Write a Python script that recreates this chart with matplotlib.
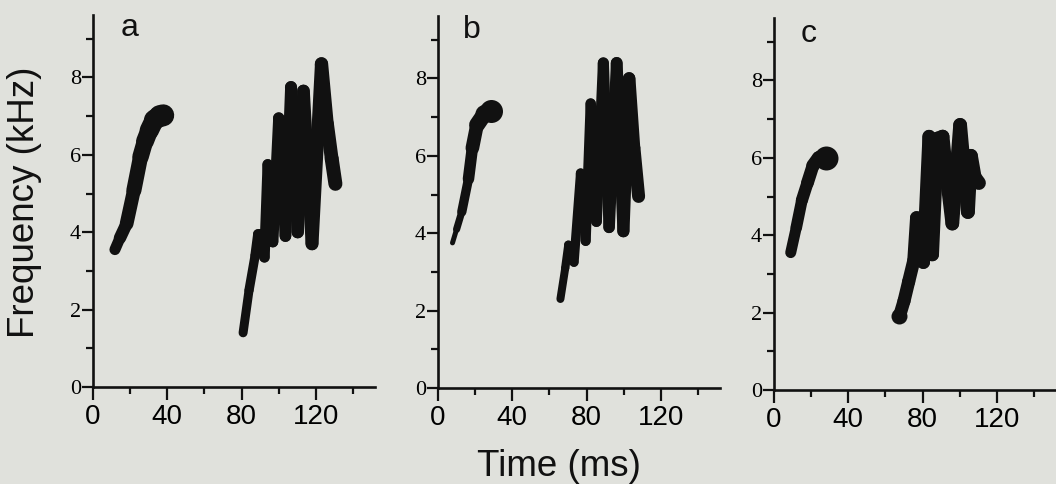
import numpy as np
import matplotlib
matplotlib.use("Agg")
import matplotlib.pyplot as plt
from matplotlib.collections import LineCollection

# ---------------- data ----------------
x_major = [0, 40, 80, 120]
x_minor = [20, 60, 100, 140]
y_major = [0, 2, 4, 6, 8]
y_minor = [1, 3, 5, 7, 9]
panel_letters = ["a", "b", "c"]

# panel a
a_note1_t = [11.8, 14.5, 18.1, 22.0, 25.6, 28.0, 30.3, 33.0, 36.0, 37.8]
a_note1_f = [3.55, 3.85, 4.22, 5.08, 5.95, 6.35, 6.63, 6.9, 7.0, 7.02]
a_note2_t = [80.8, 84.0, 87.3, 88.8, 90.8, 92.3, 94.1, 96.8, 100.0, 103.6,
             106.6, 110.2, 113.3, 117.9, 123.0, 126.0, 128.5, 130.5]
a_note2_f = [1.4, 2.5, 3.4, 3.95, 3.95, 3.35, 5.75, 3.75, 6.95, 3.9,
             7.75, 4.0, 7.65, 3.7, 8.35, 6.8, 5.9, 5.25]

# panel b
b_note1_t = [7.8, 10.0, 12.8, 16.4, 18.5, 21.0, 25.0, 28.6]
b_note1_f = [3.75, 4.1, 4.55, 5.4, 6.2, 6.8, 7.08, 7.15]
b_note2_t = [65.9, 68.5, 70.2, 71.5, 73.2, 76.8, 79.5, 82.2, 85.3, 89.0,
             92.1, 96.2, 99.8, 102.9, 105.5, 108.0]
b_note2_f = [2.3, 3.1, 3.7, 3.65, 3.25, 5.55, 3.8, 7.35, 4.3, 8.4,
             4.15, 8.4, 4.05, 8.0, 6.2, 4.95]

# panel c
c_note1_t = [9.0, 12.0, 15.0, 18.0, 21.0, 24.0, 27.8]
c_note1_f = [3.55, 4.2, 4.9, 5.35, 5.8, 6.0, 6.0]
c_note2_t = [67.5, 70.0, 72.5, 75.3, 76.8, 80.4, 83.5, 85.2, 88.0, 90.8,
             93.0, 96.0, 100.2, 104.4, 106.0, 108.0, 110.3]
c_note2_f = [1.9, 2.3, 2.8, 3.35, 4.45, 3.3, 6.55, 3.5, 6.5, 6.55,
             5.5, 4.3, 6.85, 4.6, 6.05, 5.5, 5.35]

# ---------------- style ----------------
BG = "#e0e1dc"
INK = "#111111"
W, H = 1056, 484
px = 72.0 / 100.0  # points per pixel at dpi 100

panels = [
    dict(t1=a_note1_t, f1=a_note1_f, w1=(11, 22), blob1=0,
         t2=a_note2_t, f2=a_note2_f, w2=(9, 14), blob2=0,
         left=93, bottom=387, letter=(19.9, 9.08)),
    dict(t1=b_note1_t, f1=b_note1_f, w1=(5, 18), blob1=23,
         t2=b_note2_t, f2=b_note2_f, w2=(8, 13), blob2=0,
         left=438, bottom=388, letter=(18.4, 9.04)),
    dict(t1=c_note1_t, f1=c_note1_f, w1=(11, 14), blob1=24,
         t2=c_note2_t, f2=c_note2_f, w2=(13, 14), blob2=16,
         left=774, bottom=390, letter=(18.4, 9.0)),
]

XMAX = 152
YMAX = 9.6
px_per_ms = 74.3 / 40.0
px_per_khz = 38.7

fig = plt.figure(figsize=(W / 100, H / 100), dpi=100, facecolor=BG)


def stroke(ax, t, f, w0, w1):
    pts = np.column_stack([t, f])
    segs = np.stack([pts[:-1], pts[1:]], axis=1)
    widths = np.linspace(w0, w1, len(segs)) * px
    lc = LineCollection(segs, linewidths=widths, colors=INK,
                        capstyle="round", joinstyle="round", zorder=3)
    ax.add_collection(lc)


for p, letter in zip(panels, panel_letters):
    width_px = XMAX * px_per_ms
    height_px = YMAX * px_per_khz
    ax = fig.add_axes([p["left"] / W, (H - p["bottom"]) / H,
                       width_px / W, height_px / H])
    ax.set_facecolor(BG)
    ax.set_xlim(0, XMAX)
    ax.set_ylim(0, YMAX)
    for s in ("top", "right"):
        ax.spines[s].set_visible(False)
    for s in ("left", "bottom"):
        ax.spines[s].set_linewidth(1.9)
        ax.spines[s].set_color(INK)
        ax.spines[s].set_capstyle("projecting")

    stroke(ax, p["t1"], p["f1"], *p["w1"])
    stroke(ax, p["t2"], p["f2"], *p["w2"])
    if p["blob1"]:
        ax.plot(p["t1"][-1], p["f1"][-1], "o", ms=p["blob1"] * px,
                color=INK, mew=0, zorder=4)
    if p["blob2"]:
        ax.plot(p["t2"][0], p["f2"][0], "o", ms=p["blob2"] * px,
                color=INK, mew=0, zorder=4)

    ax.set_xticks(x_major)
    ax.set_xticks(x_minor, minor=True)
    ax.set_yticks(y_major)
    ax.set_yticks(y_minor, minor=True)
    ax.set_xticklabels([str(v) for v in x_major],
                       family="Liberation Sans", fontsize=20)
    ax.set_yticklabels([str(v) for v in y_major],
                       family="Liberation Serif", fontsize=16)
    ax.tick_params(which="major", length=8, width=1.6, color=INK,
                   direction="out", pad=2)
    ax.tick_params(which="minor", length=5, width=1.6, color=INK,
                   direction="out")
    ax.tick_params(axis="x", which="major", length=9.5, pad=3)
    ax.tick_params(axis="y", which="major", pad=0.5)
    ax.text(p["letter"][0], p["letter"][1], letter, ha="center",
            va="baseline", family="Liberation Sans", fontsize=23, color=INK)

fig.text(25 / W, 1 - 202 / H, "Frequency (kHz)", rotation=90, ha="center",
         va="center", family="Liberation Sans", fontsize=26.5, color=INK)
fig.text(559 / W, 1 - 467 / H, "Time (ms)", ha="center", va="center",
         family="Liberation Sans", fontsize=26.5, color=INK)

fig.savefig("out.png", dpi=100, facecolor=BG)
